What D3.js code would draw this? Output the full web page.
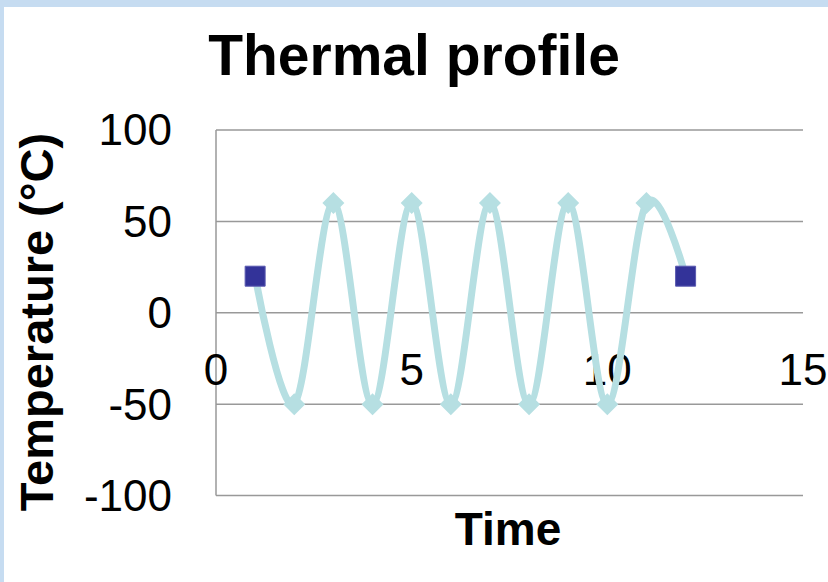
<!DOCTYPE html>
<html>
<head>
<meta charset="utf-8">
<script src="https://cdn.jsdelivr.net/npm/d3@7"></script>
<style>
  html, body { margin: 0; padding: 0; background: #fff; }
  svg { display: block; }
  text { font-family: "Liberation Sans", Arial, sans-serif; fill: #000; }
</style>
</head>
<body>
<script>
// Thermal cycle: time steps and temperatures (°C)
const times = [1, 2, 3, 4, 5, 6, 7, 8, 9, 10, 11, 12];
const temps = [20, -50, 60, -50, 60, -50, 60, -50, 60, -50, 60, 20];
const xTicks = [0, 5, 10, 15];
const yTicks = [-100, -50, 0, 50, 100];

const W = 828, H = 582;
const plot = { left: 216, right: 803, top: 130, bottom: 495.5 };

const svg = d3.select("body").append("svg").attr("width", W).attr("height", H);

// window frame
svg.append("rect").attr("x", 0).attr("y", 0).attr("width", W).attr("height", 7).attr("fill", "#c6dcf1");
svg.append("rect").attr("x", 0).attr("y", 0).attr("width", 4).attr("height", H).attr("fill", "#c6dcf1");

const x = d3.scaleLinear().domain([0, 15]).range([plot.left, plot.right]);
const y = d3.scaleLinear().domain([-100, 100]).range([plot.bottom, plot.top]);

// horizontal gridlines
svg.append("g").selectAll("line").data(yTicks).join("line")
  .attr("x1", plot.left).attr("x2", plot.right)
  .attr("y1", d => y(d)).attr("y2", d => y(d))
  .attr("stroke", "#999").attr("stroke-width", 1.5);

// vertical axis line
svg.append("line")
  .attr("x1", x(0)).attr("x2", x(0))
  .attr("y1", y(100)).attr("y2", y(-100))
  .attr("stroke", "#999").attr("stroke-width", 1.5);

// y tick labels
svg.append("g").selectAll("text").data(yTicks).join("text")
  .attr("x", 172).attr("y", d => y(d))
  .attr("dy", "0.35em")
  .attr("text-anchor", "end")
  .attr("font-size", 44)
  .text(d => d);

// x tick labels (sit below the zero line)
svg.append("g").selectAll("text").data(xTicks).join("text")
  .attr("x", d => x(d)).attr("y", 385)
  .attr("text-anchor", "middle")
  .attr("font-size", 44)
  .text(d => d);

// smoothed series line
const pts = times.map((t, i) => [t, temps[i]]);
svg.append("path")
  .datum(pts)
  .attr("d", d3.line().x(d => x(d[0])).y(d => y(d[1])).curve(d3.curveCardinal.tension(0)))
  .attr("fill", "none")
  .attr("stroke", "#b6dfe2")
  .attr("stroke-width", 7)
  .attr("stroke-linejoin", "round");

// markers: squares at the endpoints, diamonds elsewhere
const last = pts.length - 1;
svg.append("g").selectAll("path").data(pts).join("path")
  .attr("transform", d => `translate(${x(d[0])},${y(d[1])})`)
  .attr("d", (d, i) => (i === 0 || i === last)
    ? "M-10,-10H10V10H-10Z"
    : "M0,-11L11,0L0,11L-11,0Z")
  .attr("fill", (d, i) => (i === 0 || i === last) ? "#333399" : "#b6dfe2")
  .attr("stroke", (d, i) => (i === 0 || i === last) ? "#5a5ab0" : "none")
  .attr("stroke-width", 1);

// title
svg.append("text")
  .attr("x", 414).attr("y", 75)
  .attr("text-anchor", "middle")
  .attr("font-size", 57).attr("font-weight", "bold")
  .text("Thermal profile");

// axis titles
svg.append("text")
  .attr("x", 508).attr("y", 545)
  .attr("text-anchor", "middle")
  .attr("font-size", 46).attr("font-weight", "bold")
  .text("Time");

svg.append("text")
  .attr("transform", "translate(53,322) rotate(-90)")
  .attr("text-anchor", "middle")
  .attr("font-size", 47).attr("font-weight", "bold")
  .text("Temperature (°C)");
</script>
</body>
</html>
